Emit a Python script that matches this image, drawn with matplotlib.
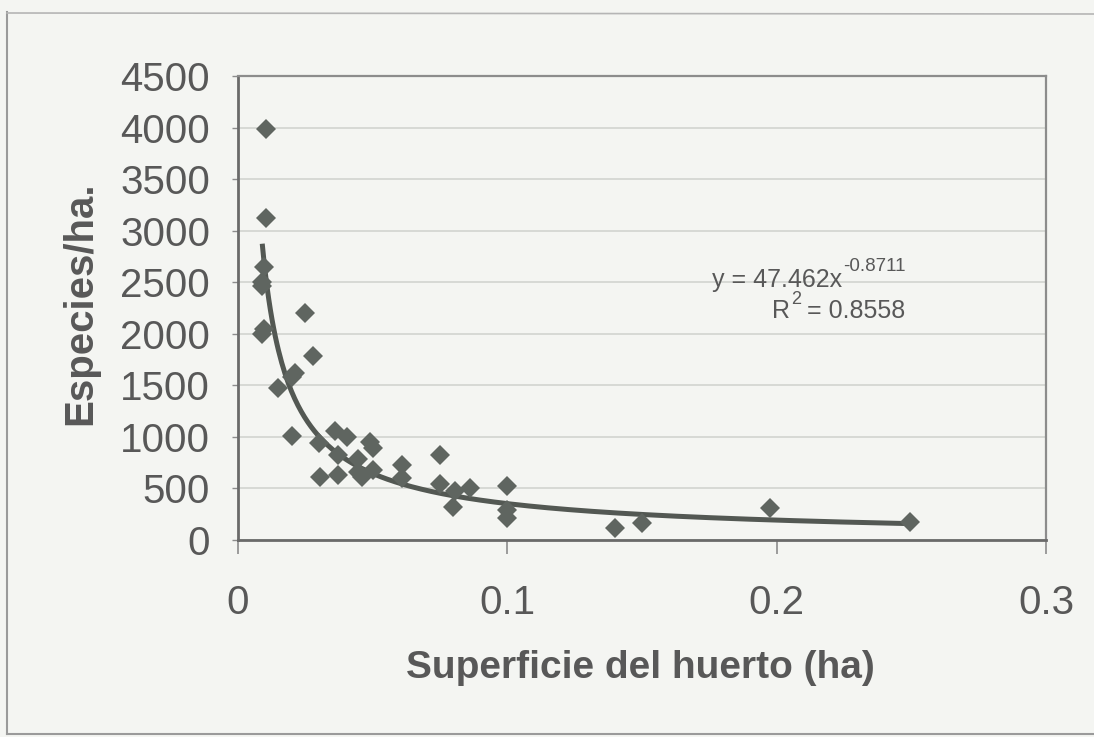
import numpy as np
import matplotlib
matplotlib.use("Agg")
import matplotlib.pyplot as plt
from matplotlib.lines import Line2D

plt.rcParams['font.family'] = ['Liberation Sans', 'DejaVu Sans']

# ---- data ----
superficie = [0.0105, 0.0105, 0.0095, 0.009, 0.009, 0.0095, 0.009, 0.015, 0.020, 0.021,
              0.020, 0.025, 0.028, 0.030, 0.0305, 0.036, 0.037, 0.037, 0.0405, 0.0446,
              0.0446, 0.046, 0.049, 0.050, 0.050, 0.061, 0.061, 0.075, 0.075, 0.0806,
              0.080, 0.086, 0.100, 0.100, 0.100, 0.140, 0.150, 0.1976, 0.2495]
especies = [3990, 3120, 2650, 2500, 2460, 2050, 2000, 1470, 1580, 1620,
            1010, 2200, 1780, 940, 610, 1060, 820, 630, 1000, 790,
            660, 610, 950, 890, 680, 725, 600, 820, 540, 480,
            320, 500, 520, 290, 210, 115, 165, 310, 170]
coef_a = 47.462
coef_b = -0.8711
r2 = 0.8558
xticks = [0, 0.1, 0.2, 0.3]
xticklabels = ['0', '0.1', '0.2', '0.3']
yticks = list(range(0, 4501, 500))

bg = '#f4f5f2'
txt = '#585858'
mk = '#5f6560'

W, H = 1094, 737
fig = plt.figure(figsize=(W / 100, H / 100), dpi=100, facecolor=bg)
ax = fig.add_axes([238 / W, 1 - 540 / H, (1046 - 238) / W, (540 - 76) / H])
ax.set_facecolor(bg)

# trendline from fitted power model over data range
xs = np.linspace(min(superficie), max(superficie), 400)
ax.plot(xs, coef_a * xs ** coef_b, color='#535853', lw=3.6, zorder=2, solid_capstyle='butt')
ax.plot(superficie, especies, linestyle='none', marker='D', markersize=10.5,
        color=mk, markeredgewidth=0, zorder=3)

ax.set_xlim(0, 0.3)
ax.set_ylim(0, 4500)
ax.set_xticks(xticks)
ax.set_xticklabels(xticklabels)
ax.set_yticks(yticks)
ax.grid(axis='y', color='#cfd1cd', lw=1.1)
ax.set_axisbelow(True)

for s in ['top', 'right']:
    ax.spines[s].set_color('#8c8c8c')
    ax.spines[s].set_linewidth(1.6)
for s in ['left', 'bottom']:
    ax.spines[s].set_color('#6a6a6a')
    ax.spines[s].set_linewidth(2.0)

ax.tick_params(axis='x', direction='out', length=10, width=1.2, colors='#8c8c8c',
               labelcolor=txt, labelsize=29, pad=22)
ax.tick_params(axis='y', direction='out', length=4, width=1.0, colors='#8c8c8c',
               labelcolor=txt, labelsize=29, pad=16)

fig.text(640 / W, 1 - 668 / H, 'Superficie del huerto (ha)', fontsize=28, fontweight='bold',
         color=txt, ha='center', va='center')
fig.text(80 / W, 1 - 303 / H, 'Especies/ha.', fontsize=29, fontweight='bold',
         color=txt, ha='center', va='center', rotation=90)

# trendline equation with superscripts
fig.canvas.draw()
renderer = fig.canvas.get_renderer()

def sup_text(x_px, base_px, main, sup, size, sup_size, raise_px):
    t = fig.text(x_px / W, 1 - base_px / H, main, fontsize=size, color=txt,
                 ha='left', va='baseline')
    bb = t.get_window_extent(renderer)
    s = fig.text((bb.x1 + 1) / W, 1 - (base_px - raise_px) / H, sup, fontsize=sup_size,
                 color=txt, ha='left', va='baseline')
    return s.get_window_extent(renderer)

sup_text(712, 287, 'y = %.3fx' % coef_a, '%.4f' % coef_b, 18, 13.5, 16)
bbS = sup_text(772, 318, 'R', '2', 18, 13, 14)
fig.text((bbS.x1 + 6) / W, 1 - 318 / H, '= %.4f' % r2, fontsize=18, color=txt,
         ha='left', va='baseline')

# outer chart frame
fc = '#9a9a9a'
fig.add_artist(Line2D([7 / W, 7 / W], [1 - 12 / H, 1 - 734 / H], transform=fig.transFigure, color=fc, lw=1.5))
fig.add_artist(Line2D([7 / W, 1094 / W], [1 - 734 / H, 1 - 734 / H], transform=fig.transFigure, color=fc, lw=1.5))
fig.add_artist(Line2D([7 / W, 1094 / W], [1 - 13 / H, 1 - 14 / H], transform=fig.transFigure, color='#b5b5b5', lw=1.2))

fig.savefig('out.png', dpi=100, facecolor=bg)
